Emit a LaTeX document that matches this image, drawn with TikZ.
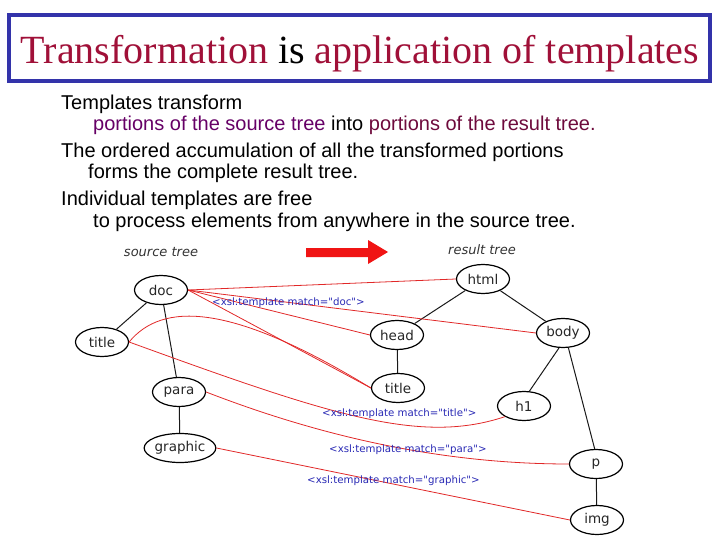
\documentclass[tikz,border=0pt]{standalone}
\usepackage{fontspec}
\setmainfont{Liberation Serif}
\setsansfont{Liberation Sans}
\newfontfamily\djv{DejaVu Sans}
\usetikzlibrary{shapes.geometric}
\definecolor{titlered}{RGB}{160,16,56}
\definecolor{boxblue}{RGB}{51,51,170}
\definecolor{purp}{RGB}{102,0,102}
\definecolor{purpb}{RGB}{110,10,60}
\definecolor{lblblue}{RGB}{40,40,180}
\definecolor{linered}{RGB}{225,40,40}
\definecolor{arrowred}{RGB}{240,20,20}
\tikzset{
  tnode/.style={ellipse, draw=black, line width=1.2pt, minimum width=53pt, minimum height=29pt, inner sep=0pt, font=\djv\fontsize{13.5}{13.5}\selectfont, text=black!85},
  tedge/.style={draw=black!90, line width=1pt},
  redline/.style={draw=linered, line width=0.8pt},
  xsl/.style={text=lblblue, font=\djv\fontsize{10.2}{10.2}\selectfont, inner sep=0pt},
  bodytext/.style={anchor=base west, inner sep=0pt, font=\sffamily\fontsize{20}{20}\selectfont},
  treelbl/.style={inner sep=0pt, font=\djv\itshape\fontsize{13}{13}\selectfont, text=black!80}
}
\begin{document}
\begin{tikzpicture}[x=1pt,y=-1pt]
\useasboundingbox (0,0) rectangle (720,540);
% title
\draw[boxblue, line width=3.5pt] (9,15) rectangle (710,81);
\node[anchor=base, inner sep=0pt, font=\fontsize{40}{40}\selectfont] (title) at (360,64)
  {\textcolor{titlered}{Transformation} is \textcolor{titlered}{application of templates}};
% body text
\node[bodytext] (l1) at (61,110) {Templates transform};
\node[bodytext] (l2) at (93,131) {\textcolor{purp}{portions of the source tree} into \textcolor{purpb}{portions of the result tree.}};
\node[bodytext] (l3) at (61,158) {The ordered accumulation of all the transformed portions};
\node[bodytext] (l4) at (88,179) {forms the complete result tree.};
\node[bodytext] (l5) at (61,206) {Individual templates are free};
\node[bodytext] (l6) at (93,227) {to process elements from anywhere in the source tree.};
% tree labels and arrow
\node[treelbl] (srclbl) at (161,252) {source tree};
\node[treelbl] (reslbl) at (482,250) {result tree};
\fill[arrowred] (306,248) -- (368,248) -- (368,240) -- (388,252) -- (368,264) -- (368,257) -- (306,257) -- cycle;
% source tree
\node[tnode] (doc) at (161,290) {doc};
\node[tnode] (stitle) at (102,342) {title};
\node[tnode] (para) at (179,392) {para};
\node[tnode] (graphic) at (180,448) {graphic};
% result tree
\node[tnode] (html) at (483,279) {html};
\node[tnode] (head) at (397,335) {head};
\node[tnode] (body) at (563,333) {body};
\node[tnode] (rtitle) at (398,388) {title};
\node[tnode] (h1) at (524,406) {h1};
\node[tnode] (p) at (596,464) {p};
\node[tnode] (img) at (597,520) {img};
% black tree edges
\draw[tedge] (doc) -- (stitle);
\draw[tedge] (doc) -- (para);
\draw[tedge] (para) -- (graphic);
\draw[tedge] (html) -- (head);
\draw[tedge] (html) -- (body);
\draw[tedge] (head) -- (rtitle);
\draw[tedge] (body.255) -- (h1.70);
\draw[tedge] (body.-70) -- (p.95);
\draw[tedge] (p) -- (img);
% red template connectors
\draw[redline] (doc.east) -- (html.west);
\draw[redline] (doc.east) -- (body.west);
\draw[redline] (doc.east) -- (head.west);
\draw[redline] (doc.east) -- (rtitle.west);
\draw[redline] (stitle.east) .. controls (162,302) and (230,302) .. (rtitle.west);
\draw[redline] (stitle.east) .. controls (330,415) and (420,445) .. (h1.south west);
\draw[redline] (para.east) .. controls (330,440) and (450,464) .. (p.west);
\draw[redline] (graphic.east) -- (img.west);
% xsl labels
\node[xsl, anchor=west] (xdoc) at (212,303) {<xsl:template match="doc">};
\node[xsl, anchor=west] (xtitle) at (322,414) {<xsl:template match="title">};
\node[xsl, anchor=west] (xpara) at (329,450) {<xsl:template match="para">};
\node[xsl, anchor=west] (xgraphic) at (307,481) {<xsl:template match="graphic">};
\end{tikzpicture}
\end{document}
